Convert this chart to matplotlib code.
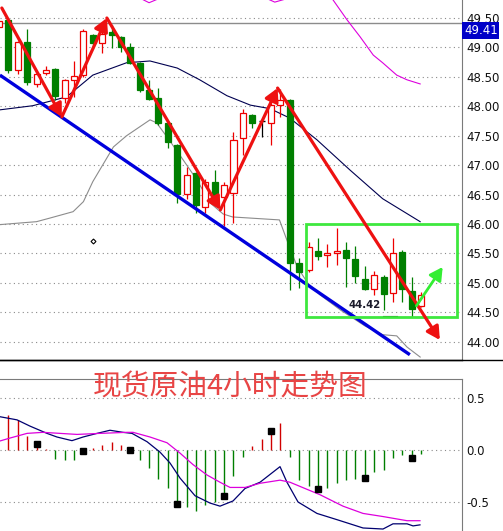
import numpy as np
import matplotlib
matplotlib.use("Agg")
import matplotlib.pyplot as plt
from matplotlib.patches import Rectangle
from matplotlib.lines import Line2D
from matplotlib.ticker import FormatStrFormatter

plt.rcParams['axes.unicode_minus'] = False

# ---------------- data ----------------
opens = [49.35, 49.47, 48.62, 49.09, 48.38, 48.57, 48.63, 48.14, 48.45, 48.53,
         49.21, 49.08, 49.26, 49.18, 49.01, 48.74, 48.28, 48.14, 47.72, 47.34,
         46.51, 46.87, 46.29, 46.72, 46.46, 46.53, 47.46, 47.85, 47.75, 47.72,
         48.02, 48.11, 45.34, 45.22, 45.54, 45.48, 45.51, 45.56, 45.41, 45.07,
         44.90, 45.10, 44.83, 45.53, 44.87, 44.61]
highs = [49.48, 49.48, 49.11, 49.31, 48.58, 48.69, 48.65, 48.46, 48.77, 49.31,
         49.23, 49.33, 49.38, 49.19, 49.08, 48.75, 48.45, 48.31, 47.73, 47.36,
         46.97, 46.89, 46.77, 46.92, 46.72, 47.56, 47.96, 47.87, 47.79, 48.06,
         48.30, 48.13, 45.43, 45.70, 45.77, 45.66, 45.94, 45.70, 45.63, 45.29,
         45.21, 45.14, 45.77, 45.56, 45.10, 44.85]
lows = [49.31, 48.57, 48.55, 48.36, 48.33, 48.53, 48.11, 48.06, 48.16, 48.50,
        48.99, 48.91, 48.99, 48.92, 48.72, 48.24, 48.11, 47.68, 47.29, 46.36,
        46.43, 46.19, 46.19, 46.44, 45.97, 46.02, 47.17, 47.63, 47.48, 47.34,
        47.82, 44.88, 44.92, 45.19, 45.39, 45.27, 45.31, 44.93, 45.00, 44.88,
        44.80, 44.54, 44.68, 44.68, 44.42, 44.59]
closes = [49.45, 48.62, 49.09, 48.41, 48.55, 48.62, 48.18, 48.45, 48.52, 49.28,
          49.08, 49.23, 49.21, 49.01, 48.74, 48.28, 48.13, 47.72, 47.40, 46.51,
          46.83, 46.33, 46.72, 46.46, 46.67, 47.43, 47.89, 47.72, 47.75, 48.02,
          48.11, 45.34, 45.19, 45.61, 45.46, 45.51, 45.54, 45.43, 45.12, 44.90,
          45.14, 44.81, 45.51, 44.90, 44.56, 44.80]

# moving average (navy)
ma_x = [0.1, 3.6, 7.2, 10.0, 13.6, 16.1, 19.0, 21.4, 24.3, 26.8, 28.9, 31.0, 33.9, 37.4, 40.9, 44.9]
ma_y = [47.94, 48.01, 48.16, 48.53, 48.74, 48.77, 48.65, 48.45, 48.18, 48.02, 47.96, 47.80, 47.43, 46.92, 46.43, 46.04]

# lower band (gray)
lo_x = [0.1, 4.0, 5.4, 7.9, 9.0, 10.0, 12.2, 13.6, 16.1, 16.8, 18.0, 19.5, 21.1, 22.5, 23.9, 24.9,
        29.9, 30.8, 31.8, 32.9, 34.2, 36.4, 39.0, 40.9, 42.4, 43.5, 44.9]
lo_y = [45.99, 46.04, 46.10, 46.21, 46.38, 46.72, 47.31, 47.50, 47.77, 47.72, 47.46, 47.12, 46.75, 46.36,
        46.17, 46.12, 46.07, 45.68, 45.27, 45.00, 44.80, 44.54, 44.27, 44.12, 44.10, 43.91, 43.74]

# upper band (magenta)
up_x = [12.9, 15.0, 16.0, 16.9, 18.8, 25.7, 28.0, 29.4, 30.5, 32.1, 34.4, 35.6, 37.1, 38.5, 39.9, 40.9, 42.4, 43.5, 44.9]
up_y = [50.32, 49.84, 49.76, 49.82, 50.23, 50.32, 49.87, 49.77, 49.82, 50.06, 49.98, 49.81, 49.47,
        49.18, 48.87, 48.74, 48.53, 48.45, 48.38]

# trend line (blue) & zigzag (red) & green arrow
trend_x = [0.1, 43.8]
trend_y = [48.53, 43.78]
zig_x = [0.3, 6.7, 11.5, 23.6, 29.7, 47.0]
zig_y = [49.67, 47.82, 49.50, 46.24, 48.31, 44.03]
garrow_x = [44.5, 47.3]
garrow_y = [44.61, 45.27]
box_x = [32.7, 48.8]
box_y = [44.42, 46.00]

last_price = 49.41
low_label = "44.42"

price_ticks = [44.0, 44.5, 45.0, 45.5, 46.0, 46.5, 47.0, 47.5, 48.0, 48.5, 49.0, 49.5]

# MACD panel
hist_x = list(range(1, 46))
hist = [0.34, 0.29, 0.13, 0.05, 0.01, -0.09, -0.10, -0.10, -0.01, 0.02,
        0.05, 0.08, 0.05, 0.01, -0.10, -0.17, -0.28, -0.37, -0.52, -0.55,
        -0.59, -0.53, -0.50, -0.43, -0.25, -0.07, 0.04, 0.11, 0.19, 0.26,
        -0.07, -0.29, -0.35, -0.38, -0.37, -0.32, -0.29, -0.28, -0.27, -0.21,
        -0.19, -0.08, -0.05, -0.05, -0.04]
mark_x = [4, 9, 14, 19, 24, 29, 34, 39, 44]
mark_y = [0.06, -0.01, 0.0, -0.52, -0.44, 0.18, -0.375, -0.27, -0.08]

macd_x = [0.11, 1.92, 3.30, 5.12, 6.18, 7.78, 8.96, 10.45, 11.83, 13.22, 14.18, 15.78, 17.16, 18.23,
          19.30, 20.90, 22.49, 23.56, 24.95, 26.23, 27.83, 29.96, 30.70, 31.88, 33.90, 36.03, 38.81,
          40.94, 42.00, 43.50, 44.14, 44.88]
macd_y = [0.32, 0.29, 0.23, 0.16, 0.125, 0.09, 0.125, 0.16, 0.19, 0.17, 0.16, 0.08, -0.02, -0.125,
          -0.27, -0.44, -0.51, -0.54, -0.49, -0.37, -0.31, -0.16, -0.31, -0.50, -0.61, -0.67, -0.75,
          -0.76, -0.71, -0.71, -0.73, -0.72]
sig_x = [0.11, 1.17, 2.99, 4.69, 6.50, 8.32, 10.77, 13.65, 14.29, 16.10, 17.91, 19.30, 20.68, 22.17,
         23.56, 24.63, 26.23, 27.83, 29.96, 31.02, 34.22, 36.67, 38.81, 40.94, 43.50, 44.88]
sig_y = [0.087, 0.115, 0.16, 0.17, 0.16, 0.15, 0.16, 0.17, 0.17, 0.125, 0.07, -0.03, -0.14, -0.24,
         -0.31, -0.36, -0.36, -0.32, -0.29, -0.31, -0.43, -0.54, -0.61, -0.64, -0.68, -0.68]
macd_ticks = [-0.5, 0.0, 0.5]

title = "现货原油4小时走势图"

# ---------------- figure ----------------
W, H = 503, 531
fig = plt.figure(figsize=(W / 100, H / 100), dpi=100)
fig.patch.set_facecolor('white')

ax = fig.add_axes([0, 171 / H, 462 / W, 360 / H])
ax2 = fig.add_axes([0, 0, 462 / W, 152 / H])

XL = (0.107, 49.36)
RED = '#ee0000'
GREEN = '#007f00'
GRID = dict(color='#8a8a8a', ls=(0, (1, 3)), lw=0.8)

# candles
o = np.array(opens); h = np.array(highs); l = np.array(lows); c = np.array(closes)
x = np.arange(len(o))
cols = np.where(c > o, RED, np.where(c < o, GREEN, 'black'))
ax.vlines(x, l, h, colors=cols, lw=0.9, zorder=2)
bw = 0.64
bull = c > o
bear = c < o
doji = c == o
ax.bar(x[bull], (c - o)[bull], bottom=o[bull], width=bw, facecolor='white',
       edgecolor=RED, lw=0.9, zorder=3)
ax.bar(x[bear], (o - c)[bear], bottom=c[bear], width=bw, facecolor=GREEN,
       edgecolor=GREEN, lw=0.9, zorder=3)
ax.hlines(o[doji], x[doji] - bw / 2, x[doji] + bw / 2, colors='black', lw=1.0, zorder=3)

# indicator lines
ax.plot(ma_x, ma_y, color='#000050', lw=0.8, zorder=1.5)
ax.plot(lo_x, lo_y, color='#8c8c8c', lw=0.8, zorder=1.5)
ax.plot(up_x, up_y, color='#dd00dd', lw=0.8, zorder=1.5)

# last price line
ax.axhline(last_price, color='#8c8c8c', lw=1.0, zorder=1)

# trend line
ax.plot(trend_x, trend_y, color='#0000dd', lw=2.4, solid_capstyle='butt', zorder=4)

# green box
ax.add_patch(Rectangle((box_x[0], box_y[0]), box_x[1] - box_x[0], box_y[1] - box_y[0],
                       fill=False, edgecolor='#3ee83e', lw=2.0, zorder=5))

# red zigzag arrows
for i in range(len(zig_x) - 1):
    ax.annotate('', xy=(zig_x[i + 1], zig_y[i + 1]), xytext=(zig_x[i], zig_y[i]),
                arrowprops=dict(arrowstyle='-|>,head_length=0.55,head_width=0.3',
                                color='#ee1111', lw=2.3, shrinkA=0, shrinkB=0,
                                mutation_scale=14),
                zorder=6)
ax.annotate('', xy=(garrow_x[1], garrow_y[1]), xytext=(garrow_x[0], garrow_y[0]),
            arrowprops=dict(arrowstyle='-|>,head_length=0.55,head_width=0.3',
                            color='#33ee33', lw=2.0, shrinkA=0, shrinkB=0,
                            mutation_scale=14),
            zorder=6)

# small annotations
ax.plot([10.0], [45.71], marker='D', ms=2.5, mfc='white', mec='black', mew=0.8, zorder=4)
ax.text(39.0, 44.63, low_label, ha='center', va='center', fontsize=7.3,
        fontweight='bold', color='#1a1a2a', zorder=7)
ax.plot([40.9, 42.4], [44.44, 44.44], color='black', lw=0.8, zorder=4)

ax.set_xlim(*XL)
ax.set_ylim(43.69, 49.806)
ax.set_yticks(price_ticks)
ax.yaxis.set_major_formatter(FormatStrFormatter('%.2f'))
ax.yaxis.tick_right()
ax.tick_params(axis='y', length=0, pad=3, labelsize=8.5, colors='#111111')
ax.set_xticks([])
ax.grid(axis='y', **GRID)
ax.set_axisbelow(True)
for s in ['left', 'top']:
    ax.spines[s].set_visible(False)
ax.spines['right'].set_color('#7a7a7a')
ax.spines['bottom'].set_color('black')
ax.spines['bottom'].set_linewidth(1.0)

# MACD panel
hx = np.array(hist_x); hv = np.array(hist)
ax2.vlines(hx, 0, hv, colors=np.where(hv >= 0, '#d00000', GREEN), lw=1.0, zorder=2)
ax2.plot(macd_x, macd_y, color='#000070', lw=0.9, zorder=3)
ax2.plot(sig_x, sig_y, color='#dd00dd', lw=0.9, zorder=3)
ax2.plot(mark_x, mark_y, ls='none', marker='s', ms=3.8, color='black', zorder=4)
ax2.set_xlim(*XL)
ax2.set_ylim(-0.779, 0.683)
ax2.set_yticks(macd_ticks)
ax2.yaxis.set_major_formatter(FormatStrFormatter('%.1f'))
ax2.yaxis.tick_right()
ax2.tick_params(axis='y', length=0, pad=3, labelsize=8.5, colors='#111111')
ax2.set_xticks([])
ax2.grid(axis='y', **GRID)
ax2.set_axisbelow(True)
for s in ['left', 'bottom']:
    ax2.spines[s].set_visible(False)
ax2.spines['right'].set_color('#7a7a7a')
ax2.spines['top'].set_color('#7a7a7a')

# separator line across full width
fig.add_artist(Line2D([0, 1], [171 / H, 171 / H], color='black', lw=1.0))

# last price label
fig.text(464 / W, 1 - 30.5 / H, f"{last_price:.2f}", ha='left', va='center', fontsize=8.5,
         color='white', bbox=dict(facecolor='#0000c8', edgecolor='none', pad=1.2), zorder=10)

# title
fig.text(93 / W, 1 - 388 / H, title, ha='left', va='center', fontsize=20.7,
         color='#e84545', family=['Noto Sans CJK SC', 'DejaVu Sans'], zorder=10)

fig.savefig('out.png', dpi=100, facecolor='white')
